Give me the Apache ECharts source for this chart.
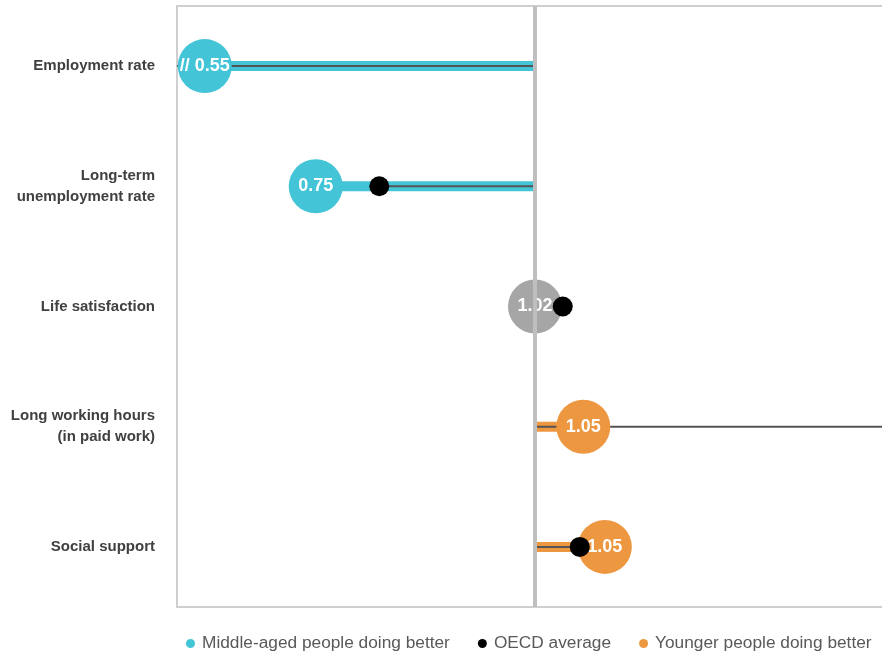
<!DOCTYPE html>
<html>
<head>
<meta charset="utf-8">
<script src="https://cdn.jsdelivr.net/npm/echarts@6/dist/echarts.min.js"></script>
<style>
  html, body { margin: 0; padding: 0; background: #fff; overflow: hidden; }
  #chart { width: 900px; height: 658px; }
</style>
</head>
<body>
<div id="chart"></div>
<script>
// categories top to bottom
var categories = ['Employment rate', 'Long-term\nunemployment rate', 'Life satisfaction', 'Long working hours\n(in paid work)', 'Social support']
// ratio where each bubble is drawn (employment is cut at the axis break)
var ratioMarks = [0.631, 0.755, 1.0, 1.054, 1.078]
// numbers printed in the bubbles
var ratioLabels = ['// 0.55', '0.75', '1.02', '1.05', '1.05']
// who does better: mid / none / young
var groups = ['mid', 'mid', 'none', 'young', 'young']
// OECD average ratios (first and fourth lie outside the visible range)
var oecdAvg = [0.5, 0.826, 1.031, 1.45, 1.05]

var TEAL = '#43c4d7'
var ORANGE = '#ee9741'
var GREY = '#a6a6a6'
var sans = '"Liberation Sans", Arial, sans-serif'

function colorOf (g) {
  return g === 'mid' ? TEAL : (g === 'young' ? ORANGE : GREY)
}

function bubbles (g) {
  var out = []
  ratioMarks.forEach(function (v, i) {
    if (groups[i] === g) out.push({ value: [v, i], label: { formatter: ratioLabels[i] } })
  })
  return out
}

// horizontal bar between 1 and a value, clipped to the grid
function barRenderer (vals, thick, colorFn) {
  return function (params, api) {
    var i = params.dataIndex
    var a = api.coord([1, i])
    var b = api.coord([vals[i], i])
    var rect = echarts.graphic.clipRectByRect({
      x: Math.min(a[0], b[0]),
      y: a[1] - thick / 2,
      width: Math.abs(b[0] - a[0]),
      height: thick
    }, params.coordSys)
    if (!rect) return
    return { type: 'rect', shape: rect, style: { fill: colorFn(i) } }
  }
}

var idx = categories.map(function (c, i) { return i })
var bubbleLabel = { show: true, position: 'inside', color: '#fff', fontSize: 18, fontWeight: 'bold', fontFamily: sans }

var chart = echarts.init(document.getElementById('chart'))
chart.setOption({
  animation: false,
  grid: {
    left: 177, width: 716, top: 6, bottom: 51,
    show: true, borderColor: '#cfcfcf', borderWidth: 2
  },
  xAxis: {
    type: 'value', min: 0.6, max: 1.4,
    axisLine: { show: false }, axisTick: { show: false },
    axisLabel: { show: false }, splitLine: { show: false }
  },
  yAxis: {
    type: 'category', inverse: true, data: categories,
    axisLine: { show: false }, axisTick: { show: false },
    axisLabel: {
      margin: 22, fontSize: 15, fontWeight: 'bold', color: '#404040',
      fontFamily: sans, lineHeight: 21, padding: [4, 0, 0, 0]
    }
  },
  legend: {
    top: 635, left: 186, width: 700, padding: 0,
    icon: 'circle', itemWidth: 9, itemHeight: 9, itemGap: 28,
    textStyle: { fontSize: 17.3, color: '#595959', fontFamily: sans, padding: [0, 0, 0, 2] },
    data: ['Middle-aged people doing better', 'OECD average', 'Younger people doing better']
  },
  series: [
    {
      type: 'custom', z: 1, data: idx,
      renderItem: barRenderer(ratioMarks, 10, function (i) { return colorOf(groups[i]) }),
      markLine: {
        silent: true, symbol: 'none', label: { show: false },
        lineStyle: { color: '#bfbfbf', width: 4, type: 'solid' },
        data: [{ xAxis: 1 }]
      }
    },
    {
      type: 'custom', z: 2, data: idx,
      renderItem: barRenderer(oecdAvg, 2, function () { return '#555555' })
    },
    {
      name: 'Middle-aged people doing better', type: 'scatter', z: 3,
      symbolSize: 54, itemStyle: { color: TEAL, opacity: 1 },
      label: bubbleLabel, data: bubbles('mid')
    },
    {
      type: 'scatter', z: 3, clip: false,
      symbolSize: 54, itemStyle: { color: GREY, opacity: 1 },
      label: bubbleLabel, data: bubbles('none')
    },
    {
      name: 'Younger people doing better', type: 'scatter', z: 3,
      symbolSize: 54, itemStyle: { color: ORANGE, opacity: 1 },
      label: bubbleLabel, data: bubbles('young')
    },
    {
      name: 'OECD average', type: 'scatter', z: 4,
      symbolSize: 20, itemStyle: { color: '#000', opacity: 1 },
      data: oecdAvg.map(function (v, i) { return [v, i] })
    }
  ]
})
</script>
</body>
</html>
